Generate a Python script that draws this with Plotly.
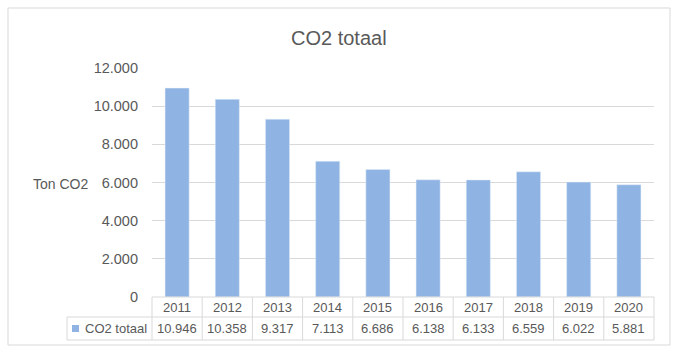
import plotly.graph_objects as go

years = ["2011", "2012", "2013", "2014", "2015", "2016", "2017", "2018", "2019", "2020"]
co2 = [10946, 10358, 9317, 7113, 6686, 6138, 6133, 6559, 6022, 5881]
series_name = "CO2 totaal"
title = "CO2 totaal"
y_title = "Ton CO2"

W, H = 678, 355
L, R, T, B = 152, 24, 68, 58
pw, ph = W - L - R, H - T - B

def px_x(px):
    return (px - L) / pw

def px_y(py):
    return (H - B - py) / ph

FONT = "Liberation Sans, Arial"
TXT = "#595959"
GRID = "#D9D9D9"
BAR = "#8FB4E3"

fig = go.Figure(go.Bar(x=years, y=co2, marker_color=BAR, name=series_name, width=0.48))

shapes = []
ann = []
row1, row2 = px_y(317), px_y(340)
# outer chart border
shapes.append(dict(type="rect", xref="paper", yref="paper", x0=px_x(8), x1=px_x(670),
                   y0=px_y(345), y1=px_y(8), line=dict(color="#D9D9D9", width=1)))
# table horizontal lines
shapes.append(dict(type="line", xref="paper", yref="paper", x0=0, x1=1, y0=0, y1=0,
                   line=dict(color=GRID, width=1)))
shapes.append(dict(type="line", xref="paper", yref="paper", x0=px_x(67), x1=1, y0=row1, y1=row1,
                   line=dict(color=GRID, width=1)))
shapes.append(dict(type="line", xref="paper", yref="paper", x0=px_x(67), x1=1, y0=row2, y1=row2,
                   line=dict(color=GRID, width=1)))
shapes.append(dict(type="line", xref="paper", yref="paper", x0=px_x(67), x1=px_x(67), y0=row2, y1=row1,
                   line=dict(color=GRID, width=1)))
n = len(years)
for i in range(n + 1):
    xp = i / n
    shapes.append(dict(type="line", xref="paper", yref="paper", x0=xp, x1=xp, y0=row2, y1=0,
                       line=dict(color=GRID, width=1)))
# legend square
shapes.append(dict(type="rect", xref="paper", yref="paper", x0=px_x(72), x1=px_x(79),
                   y0=px_y(332), y1=px_y(325), fillcolor=BAR, line=dict(width=0)))
ann.append(dict(text=series_name, xref="paper", yref="paper", x=px_x(83), y=(row1 + row2) / 2,
                xanchor="left", yanchor="middle", showarrow=False, font=dict(size=13, color=TXT, family=FONT)))
for i, (yr, v) in enumerate(zip(years, co2)):
    ann.append(dict(text=yr, xref="x", yref="paper", x=i, y=row1 / 2, showarrow=False,
                    xanchor="center", yanchor="middle", font=dict(size=13, color=TXT, family=FONT)))
    ann.append(dict(text=f"{v:,}".replace(",", "."), xref="x", yref="paper", x=i, y=(row1 + row2) / 2,
                    showarrow=False, xanchor="center", yanchor="middle",
                    font=dict(size=13, color=TXT, family=FONT)))
ann.append(dict(text=y_title, xref="paper", yref="paper", x=px_x(60), y=px_y(184), showarrow=False,
                xanchor="center", yanchor="middle", font=dict(size=14, color=TXT, family=FONT)))
ann.append(dict(text=title, xref="paper", yref="paper", x=px_x(339), y=px_y(38), showarrow=False,
                xanchor="center", yanchor="middle", font=dict(size=20, color=TXT, family=FONT)))

fig.update_layout(
    width=W, height=H, margin=dict(l=L, r=R, t=T, b=B),
    paper_bgcolor="white", plot_bgcolor="white",
    separators=",.", showlegend=False,
    shapes=shapes, annotations=ann,
    font=dict(family=FONT, color=TXT),
)
fig.update_xaxes(type="category", showticklabels=False, showgrid=False, showline=False, zeroline=False,
                 range=[-0.5, n - 0.5])
fig.update_yaxes(range=[0, 12000], dtick=2000, tickformat=",", showgrid=True, gridcolor=GRID,
                 zeroline=False, showline=False, ticks="", ticklabelstandoff=13,
                 tickfont=dict(size=14.5, color=TXT, family=FONT))

fig.write_html("out.html", config={"displayModeBar": False},
               post_script="document.body.style.margin='0';")
